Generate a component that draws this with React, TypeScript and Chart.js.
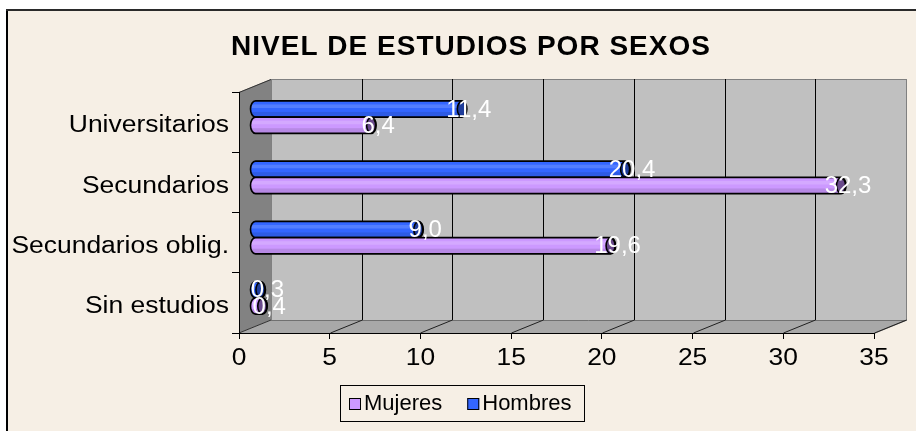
import { useEffect, useRef } from "react";
import { Chart, registerables } from "chart.js";

Chart.register(...registerables);

const TITLE = "NIVEL DE ESTUDIOS POR SEXOS";
const categories = ["Universitarios", "Secundarios", "Secundarios oblig.", "Sin estudios"];
const hombres = [11.4, 20.4, 9.0, 0.3];
const mujeres = [6.4, 32.3, 19.6, 0.4];
const xMin = 0;
const xMax = 35;
const xStep = 5;

const FONT = '"Liberation Sans", Arial, sans-serif';
const CREAM = "#F6EFE5";
const DX = 32;
const DY = -13;
const BX = 16;
const BY = -5;

const fmt = (v: number) => v.toFixed(1).replace(".", ",");

const scene = {
  id: "scene",
  beforeDraw(chart: any) {
    const { ctx, chartArea: a, scales } = chart;
    const x = scales.x;
    const W = chart.width;
    const H = chart.height;
    ctx.save();
    ctx.fillStyle = "#ffffff";
    ctx.fillRect(0, 0, W, H);
    ctx.fillStyle = CREAM;
    ctx.fillRect(7, 10, W - 7, H - 10);
    ctx.fillStyle = "#000";
    ctx.fillRect(6, 9, 2, H - 9);
    ctx.fillStyle = "#2a2a2a";
    ctx.fillRect(6, 9, W - 6, 2);

    ctx.font = "bold 28px " + FONT;
    ctx.fillStyle = "#000";
    ctx.textAlign = "center";
    ctx.textBaseline = "middle";
    (ctx as any).letterSpacing = "1px";
    ctx.fillText(TITLE, 471, 47);
    (ctx as any).letterSpacing = "0px";

    const x0 = a.left, x1 = a.right, y0 = a.top, y1 = a.bottom;
    // back wall
    ctx.fillStyle = "#C0C0C0";
    ctx.fillRect(x0 + DX, y0 + DY, x1 - x0, y1 - y0);
    ctx.strokeStyle = "#808080";
    ctx.lineWidth = 1;
    ctx.strokeRect(x0 + DX + 0.5, y0 + DY + 0.5, x1 - x0, y1 - y0);
    // left wall
    ctx.fillStyle = "#828282";
    ctx.beginPath();
    ctx.moveTo(x0, y0);
    ctx.lineTo(x0 + DX, y0 + DY);
    ctx.lineTo(x0 + DX, y1 + DY);
    ctx.lineTo(x0, y1);
    ctx.closePath();
    ctx.fill();
    ctx.strokeStyle = "#333";
    ctx.beginPath();
    ctx.moveTo(x0, y0 + 0.5);
    ctx.lineTo(x0 + DX, y0 + DY + 0.5);
    ctx.stroke();
    // floor
    ctx.fillStyle = "#A8A8A8";
    ctx.beginPath();
    ctx.moveTo(x0, y1);
    ctx.lineTo(x0 + DX, y1 + DY);
    ctx.lineTo(x1 + DX, y1 + DY);
    ctx.lineTo(x1, y1);
    ctx.closePath();
    ctx.fill();
    ctx.strokeStyle = "#707070";
    ctx.beginPath();
    ctx.moveTo(x0 + DX, y1 + DY + 0.5);
    ctx.lineTo(x1 + DX, y1 + DY + 0.5);
    ctx.lineTo(x1, y1 + 0.5);
    ctx.stroke();
    // grid lines
    for (let v = xMin + xStep; v <= xMax; v += xStep) {
      const px = Math.round(x.getPixelForValue(v)) + 0.5;
      ctx.strokeStyle = "#000";
      if (v < xMax) {
        ctx.beginPath();
        ctx.moveTo(px + DX, y0 + DY);
        ctx.lineTo(px + DX, y1 + DY);
        ctx.stroke();
      }
      ctx.strokeStyle = "#202020";
      ctx.beginPath();
      ctx.moveTo(px, y1);
      ctx.lineTo(px + DX, y1 + DY);
      ctx.stroke();
    }
    ctx.strokeStyle = "#303030";
    ctx.beginPath();
    ctx.moveTo(x0, y1);
    ctx.lineTo(x0 + DX, y1 + DY);
    ctx.stroke();
    ctx.restore();
  },
  beforeDatasetsDraw(chart: any) {
    chart.ctx.save();
    chart.ctx.translate(BX, BY);
  },
  afterDatasetsDraw(chart: any) {
    const ctx = chart.ctx;
    const caps = ["#1E3C9A", "#6A4A8C"];
    chart.data.datasets.forEach((ds: any, di: number) => {
      const meta = chart.getDatasetMeta(di);
      meta.data.forEach((bar: any) => {
        const { x, y, base, height } = bar.getProps(["x", "y", "base", "height"], true);
        const top = y - height / 2;
        const bot = y + height / 2;
        const rx = 5;
        const ry = height / 2;
        const path = new Path2D();
        path.moveTo(x, top);
        path.lineTo(base, top);
        path.ellipse(base, y, rx, ry, 0, 1.5 * Math.PI, 0.5 * Math.PI, true);
        path.lineTo(x, bot);
        path.ellipse(x, y, rx, ry, 0, 0.5 * Math.PI, -0.5 * Math.PI, true);
        path.closePath();
        ctx.save();
        ctx.fillStyle = ds.backgroundColor;
        ctx.fill(path);
        ctx.clip(path);
        ctx.fillStyle = "rgba(255,255,255,0.16)";
        ctx.fillRect(base - rx, top + height * 0.22, x - base + 2 * rx, height * 0.22);
        ctx.fillStyle = "rgba(0,0,0,0.10)";
        ctx.fillRect(base - rx, top + height * 0.68, x - base + 2 * rx, height * 0.32);
        ctx.restore();
        ctx.save();
        ctx.lineWidth = 1.6;
        ctx.strokeStyle = "#000";
        ctx.stroke(path);
        ctx.beginPath();
        ctx.ellipse(x, y, rx - 0.5, ry - 0.5, 0, 0, 2 * Math.PI);
        ctx.fillStyle = caps[di];
        ctx.fill();
        ctx.stroke();
        ctx.restore();
      });
    });
    chart.data.datasets.forEach((ds: any, di: number) => {
      const meta = chart.getDatasetMeta(di);
      meta.data.forEach((bar: any, i: number) => {
        const { x, y } = bar.getProps(["x", "y"], true);
        ctx.save();
        ctx.font = "24px " + FONT;
        ctx.fillStyle = "#fff";
        ctx.textAlign = "center";
        ctx.textBaseline = "middle";
        ctx.fillText(fmt(ds.data[i]), x + 7, y + 1);
        ctx.restore();
      });
    });
    ctx.restore();
  },
  afterDraw(chart: any) {
    const ctx = chart.ctx;
    ctx.save();
    // axis labels (slightly widened glyphs as in the reference)
    const ys = chart.scales.y;
    ctx.fillStyle = "#000";
    ctx.font = "23px " + FONT;
    ctx.textBaseline = "middle";
    ys.ticks.forEach((t: any, i: number) => {
      const py = ys.getPixelForTick(i);
      const label = ys.getLabelForValue(t.value);
      ctx.save();
      ctx.translate(229, py + 4);
      ctx.scale(1.15, 1);
      ctx.textAlign = "right";
      ctx.fillText(label, 0, 0);
      ctx.restore();
    });
    const xs = chart.scales.x;
    ctx.font = "24px " + FONT;
    xs.ticks.forEach((t: any) => {
      const px = xs.getPixelForValue(t.value);
      ctx.save();
      ctx.translate(px, xs.top + 25);
      ctx.scale(1.1, 1);
      ctx.textAlign = "center";
      ctx.fillText(String(t.label), 0, 0);
      ctx.restore();
    });

    // legend
    ctx.font = "22px " + FONT;
    ctx.fillStyle = CREAM;
    ctx.fillRect(340, 385, 245, 37);
    ctx.strokeStyle = "#000";
    ctx.lineWidth = 1;
    ctx.strokeRect(340.5, 385.5, 244, 36);
    const items = chart.data.datasets.slice().reverse();
    let lx = 349;
    items.forEach((ds: any) => {
      ctx.fillStyle = ds.backgroundColor;
      ctx.fillRect(lx, 398, 12, 12);
      ctx.strokeStyle = "#000";
      ctx.strokeRect(lx + 0.5, 398.5, 11, 11);
      ctx.fillStyle = "#000";
      ctx.textAlign = "left";
      ctx.textBaseline = "middle";
      ctx.fillText(ds.label, lx + 15, 404);
      lx += 15 + ctx.measureText(ds.label).width + 25;
    });
    ctx.restore();
  },
};

export default function App() {
  const ref = useRef<HTMLCanvasElement | null>(null);
  useEffect(() => {
    if (!ref.current) return;
    const chart = new Chart(ref.current, {
      type: "bar",
      data: {
        labels: categories,
        datasets: [
          { label: "Hombres", data: hombres, backgroundColor: "#3366FF", borderWidth: 0 },
          { label: "Mujeres", data: mujeres, backgroundColor: "#CC99FF", borderWidth: 0 },
        ],
      },
      options: {
        indexAxis: "y",
        animation: false,
        responsive: false,
        devicePixelRatio: 1,
        layout: { padding: { top: 92, right: 42, bottom: 0, left: 0 } },
        datasets: { bar: { categoryPercentage: 0.54, barPercentage: 1, clip: false } as any },
        plugins: { legend: { display: false }, title: { display: false }, tooltip: { enabled: false } },
        scales: {
          x: {
            type: "linear",
            min: xMin,
            max: xMax,
            ticks: { stepSize: xStep, display: false, font: { family: FONT, size: 24 } },
            grid: { drawOnChartArea: false, drawTicks: true, tickLength: 6, color: "#000" },
            border: { display: true, color: "#000", width: 1 },
            afterFit: (s: any) => { s.height = 98; },
          },
          y: {
            type: "category",
            ticks: { display: false, font: { family: FONT, size: 23 } },
            grid: { drawOnChartArea: false, drawTicks: true, tickLength: 7, color: "#000", offset: true },
            border: { display: true, color: "#000", width: 1 },
            afterFit: (s: any) => { s.width = 239; },
          },
        },
      },
      plugins: [scene],
    });
    return () => chart.destroy();
  }, []);
  return (
    <div style={{ position: "absolute", left: 0, top: 0, width: 916, height: 431 }}>
      <canvas ref={ref} width={916} height={431} style={{ display: "block" }} />
    </div>
  );
}
